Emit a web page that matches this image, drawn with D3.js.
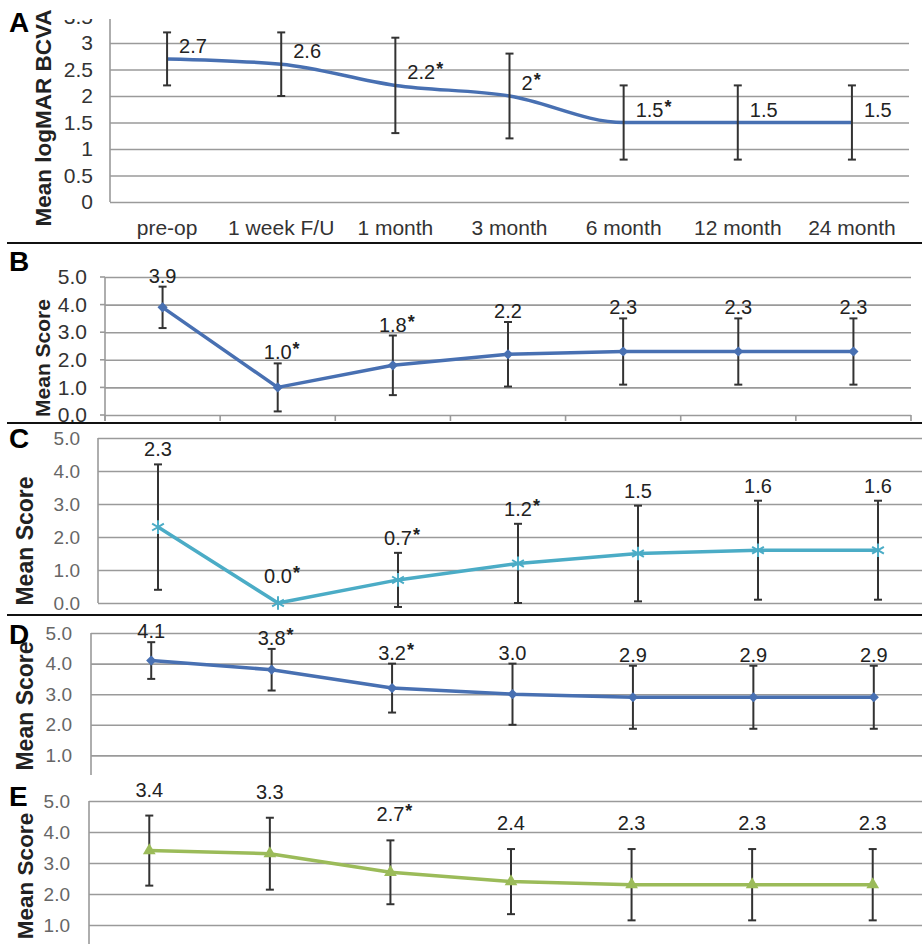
<!DOCTYPE html>
<html>
<head>
<meta charset="utf-8">
<script src="https://cdn.jsdelivr.net/npm/d3@7"></script>
<style>
  html, body { margin: 0; padding: 0; background: #fff; }
  svg { display: block; font-family: "Liberation Sans", Arial, sans-serif; }
</style>
</head>
<body>
<svg id="chart" width="922" height="944"></svg>
<script>
// ----------------------------------------
// DATA

var categories = ["pre-op", "1 week F/U", "1 month", "3 month", "6 month", "12 month", "24 month"];

// A - logMAR BCVA
var bcvaMean = [2.7, 2.6, 2.2, 2, 1.5, 1.5, 1.5];
var bcvaErr  = [0.5, 0.6, 0.9, 0.8, 0.7, 0.7, 0.7];
var bcvaSig  = [0, 0, 1, 1, 1, 0, 0];
var bcvaTicks = [0, 0.5, 1, 1.5, 2, 2.5, 3, 3.5];

// B
var scoreBMean = [3.9, 1.0, 1.8, 2.2, 2.3, 2.3, 2.3];
var scoreBErr  = [0.75, 0.87, 1.08, 1.17, 1.2, 1.2, 1.2];
var scoreBSig  = [0, 1, 1, 0, 0, 0, 0];

// C
var scoreCMean = [2.3, 0.0, 0.7, 1.2, 1.5, 1.6, 1.6];
var scoreCErr  = [1.9, 0, 0.82, 1.2, 1.45, 1.5, 1.5];
var scoreCSig  = [0, 1, 1, 1, 0, 0, 0];

// D
var scoreDMean = [4.1, 3.8, 3.2, 3.0, 2.9, 2.9, 2.9];
var scoreDErr  = [0.6, 0.68, 0.8, 1.0, 1.03, 1.03, 1.03];
var scoreDSig  = [0, 1, 1, 0, 0, 0, 0];

// E
var scoreEMean = [3.4, 3.3, 2.7, 2.4, 2.3, 2.3, 2.3];
var scoreEErr  = [1.13, 1.16, 1.03, 1.05, 1.15, 1.15, 1.15];
var scoreESig  = [0, 0, 1, 0, 0, 0, 0];

var scoreTicks = [0, 1, 2, 3, 4, 5];

// ----------------------------------------
// PANEL LAYOUT

var fmtPlain = function(v) { return String(v); };
var fmtOne = d3.format(".1f");

var panels = [
  { letter: "A", letterY: 32, mean: bcvaMean, err: bcvaErr, sig: bcvaSig, ticks: bcvaTicks, yMax: 3.5,
    left: 110, right: 909, y0: 202, yTop: 16.5, clip: [19, 243],
    color: "#4870b2", marker: "none", curve: d3.curveMonotoneX,
    tickFont: 21, tickPad: 17, tickColor: "#333", tickFmt: fmtPlain, fmt: fmtPlain,
    title: "Mean logMAR BCVA", titleX: 43, titleY: 118, titleSize: 22.5,
    labelMode: "side", xLabels: true },
  { letter: "B", letterY: 271, mean: scoreBMean, err: scoreBErr, sig: scoreBSig, ticks: scoreTicks, yMax: 5,
    left: 105, right: 911, y0: 415, yTop: 277, clip: [243, 423],
    color: "#4870b2", marker: "diamond", curve: d3.curveLinear,
    tickFont: 21, tickPad: 18, tickColor: "#333", tickFmt: fmtOne, fmt: fmtOne,
    title: "Mean Score", titleX: 42, titleY: 358, titleSize: 21,
    labelMode: "top", labelGap: 4, xTicks: true },
  { letter: "C", letterY: 448, mean: scoreCMean, err: scoreCErr, sig: scoreCSig, ticks: scoreTicks, yMax: 5,
    left: 98, right: 938, y0: 603, yTop: 438, clip: [423, 615],
    color: "#4bacc6", marker: "star", curve: d3.curveLinear,
    tickFont: 19, tickPad: 18, tickColor: "#666", tickFmt: fmtOne, fmt: fmtOne,
    title: "Mean Score", titleX: 25, titleY: 541, titleSize: 23,
    labelMode: "top", labelGap: 8 },
  { letter: "D", letterY: 644, mean: scoreDMean, err: scoreDErr, sig: scoreDSig, ticks: scoreTicks, yMax: 5,
    left: 91, right: 934, y0: 786, yTop: 633, clip: [615, 775],
    color: "#4870b2", marker: "diamond", curve: d3.curveLinear,
    tickFont: 19, tickPad: 19, tickColor: "#666", tickFmt: fmtOne, fmt: fmtOne,
    title: "Mean Score", titleX: 25, titleY: 706, titleSize: 23,
    labelMode: "top", labelGap: 4 },
  { letter: "E", letterY: 806, mean: scoreEMean, err: scoreEErr, sig: scoreESig, ticks: scoreTicks, yMax: 5,
    left: 89, right: 933, y0: 956, yTop: 801, clip: [778, 944],
    color: "#9bbb59", marker: "triangle", curve: d3.curveLinear,
    tickFont: 19, tickPad: 19, tickColor: "#666", tickFmt: fmtOne, fmt: fmtOne,
    title: "Mean Score", titleX: 25, titleY: 876, titleSize: 22.5,
    labelMode: "top", labelGap: 19 }
];

var svg = d3.select("#chart");
svg.append("rect").attr("width", 922).attr("height", 944).attr("fill", "#fff");

panels.forEach(function(p, i) {
  var clipId = "clip" + i;
  svg.append("clipPath").attr("id", clipId).append("rect")
    .attr("x", 0).attr("y", p.clip[0])
    .attr("width", 922).attr("height", p.clip[1] - p.clip[0]);

  var g = svg.append("g").attr("clip-path", "url(#" + clipId + ")");

  var x = d3.scalePoint().domain(categories).range([p.left, p.right]).padding(0.5);
  var y = d3.scaleLinear().domain([0, p.yMax]).range([p.y0, p.yTop]);

  // only the ticks that fall inside the visible strip of the panel
  var shown = p.ticks.filter(function(t) { return y(t) <= p.clip[1]; });

  // gridlines and tick labels
  var axis = d3.axisLeft(y)
    .tickValues(shown)
    .tickSize(-(p.right - p.left))
    .tickPadding(p.tickPad)
    .tickFormat(p.tickFmt);

  var ax = g.append("g")
    .attr("transform", "translate(" + p.left + ",0)")
    .call(axis);
  ax.select(".domain").remove();
  ax.selectAll(".tick line").attr("stroke", "#9a9a9a").attr("stroke-width", 1.6);
  ax.selectAll(".tick text")
    .attr("font-size", p.tickFont)
    .attr("font-family", "Liberation Sans, Arial, sans-serif")
    .attr("fill", p.tickColor);

  // left axis line
  g.append("line")
    .attr("x1", p.left).attr("x2", p.left)
    .attr("y1", p.yTop).attr("y2", p.y0 + (p.xTicks ? 6 : 0))
    .attr("stroke", "#9a9a9a").attr("stroke-width", 1.6);

  if (p.xTicks) {
    // category boundary ticks and small left ticks
    var bounds = d3.range(categories.length + 1).map(function(k) { return p.left + k * x.step(); });
    g.selectAll(".xtick").data(bounds).enter().append("line")
      .attr("x1", function(d) { return d; }).attr("x2", function(d) { return d; })
      .attr("y1", p.y0).attr("y2", p.y0 + 6)
      .attr("stroke", "#9a9a9a").attr("stroke-width", 1.6);
    g.selectAll(".ytick").data(shown).enter().append("line")
      .attr("x1", p.left - 5).attr("x2", p.left)
      .attr("y1", function(d) { return y(d); }).attr("y2", function(d) { return y(d); })
      .attr("stroke", "#9a9a9a").attr("stroke-width", 1.6);
  }

  if (p.xLabels) {
    g.selectAll(".xlab").data(categories).enter().append("text")
      .attr("x", function(d) { return x(d); })
      .attr("y", p.y0 + 33)
      .attr("text-anchor", "middle")
      .attr("font-size", 21)
      .attr("fill", "#333")
      .text(function(d) { return d; });
  }

  var pts = categories.map(function(c, j) {
    return { cat: c, m: p.mean[j], e: p.err[j], sig: p.sig[j] };
  });

  // series line
  var lineGen = d3.line()
    .curve(p.curve)
    .x(function(d) { return x(d.cat); })
    .y(function(d) { return y(d.m); });

  g.append("path")
    .attr("d", lineGen(pts))
    .attr("fill", "none")
    .attr("stroke", p.color)
    .attr("stroke-width", 3.5)
    .attr("stroke-linejoin", "round");

  // error bars
  var eb = g.append("g").attr("stroke", "#333").attr("stroke-width", 2);
  pts.filter(function(d) { return d.e > 0; }).forEach(function(d) {
    var px = x(d.cat), lo = y(d.m - d.e), hi = y(d.m + d.e);
    eb.append("line").attr("x1", px).attr("x2", px).attr("y1", lo).attr("y2", hi);
    eb.append("line").attr("x1", px - 4).attr("x2", px + 4).attr("y1", lo).attr("y2", lo);
    eb.append("line").attr("x1", px - 4).attr("x2", px + 4).attr("y1", hi).attr("y2", hi);
  });

  // markers
  if (p.marker === "diamond") {
    g.selectAll(".mk").data(pts).enter().append("path")
      .attr("d", d3.symbol().type(d3.symbolSquare).size(52))
      .attr("transform", function(d) { return "translate(" + x(d.cat) + "," + y(d.m) + ") rotate(45)"; })
      .attr("fill", p.color);
  } else if (p.marker === "star") {
    g.selectAll(".mk").data(pts).enter().append("path")
      .attr("d", d3.symbol().type(d3.symbolAsterisk).size(130))
      .attr("transform", function(d) { return "translate(" + x(d.cat) + "," + y(d.m) + ")"; })
      .attr("fill", "none")
      .attr("stroke", p.color)
      .attr("stroke-width", 2);
  } else if (p.marker === "triangle") {
    g.selectAll(".mk").data(pts).enter().append("path")
      .attr("d", d3.symbol().type(d3.symbolTriangle).size(70))
      .attr("transform", function(d) { return "translate(" + x(d.cat) + "," + y(d.m) + ")"; })
      .attr("fill", p.color);
  }

  // data labels
  pts.forEach(function(d) {
    var px = x(d.cat), py = y(d.m), top = y(d.m + d.e);
    if (p.labelMode === "side") {
      var t = g.append("text")
        .attr("x", px + 12).attr("y", py - 6)
        .attr("font-size", 20).attr("fill", "#222")
        .text(p.fmt(d.m));
      if (d.sig) {
        t.append("tspan").attr("dx", 1).attr("dy", -4)
          .attr("font-weight", "bold").attr("font-size", 18).text("*");
      }
    } else {
      var base = Math.min(top - p.labelGap, py - 20);
      var num = g.append("text")
        .attr("x", px).attr("y", base)
        .attr("text-anchor", "middle")
        .attr("font-size", 20).attr("fill", "#222")
        .text(p.fmt(d.m));
      if (d.sig) {
        var w = num.node().getComputedTextLength();
        g.append("text")
          .attr("x", px + w / 2 + 1).attr("y", base - 4)
          .attr("font-size", 18).attr("font-weight", "bold").attr("fill", "#222")
          .text("*");
      }
    }
  });

  // axis title
  svg.append("text")
    .attr("transform", "translate(" + p.titleX + "," + p.titleY + ") rotate(-90)")
    .attr("text-anchor", "middle")
    .attr("dominant-baseline", "central")
    .attr("font-size", p.titleSize)
    .attr("font-weight", "bold")
    .attr("fill", "#222")
    .text(p.title);

  // panel letter
  svg.append("text")
    .attr("x", 9).attr("y", p.letterY)
    .attr("font-size", 28).attr("font-weight", "bold")
    .attr("fill", "#000")
    .text(p.letter);
});

// panel dividers
var dividerY = [243, 423, 615];
svg.selectAll(".divider").data(dividerY).enter().append("line")
  .attr("x1", 7).attr("x2", 922)
  .attr("y1", function(d) { return d; }).attr("y2", function(d) { return d; })
  .attr("stroke", "#111").attr("stroke-width", 2);
</script>
</body>
</html>
